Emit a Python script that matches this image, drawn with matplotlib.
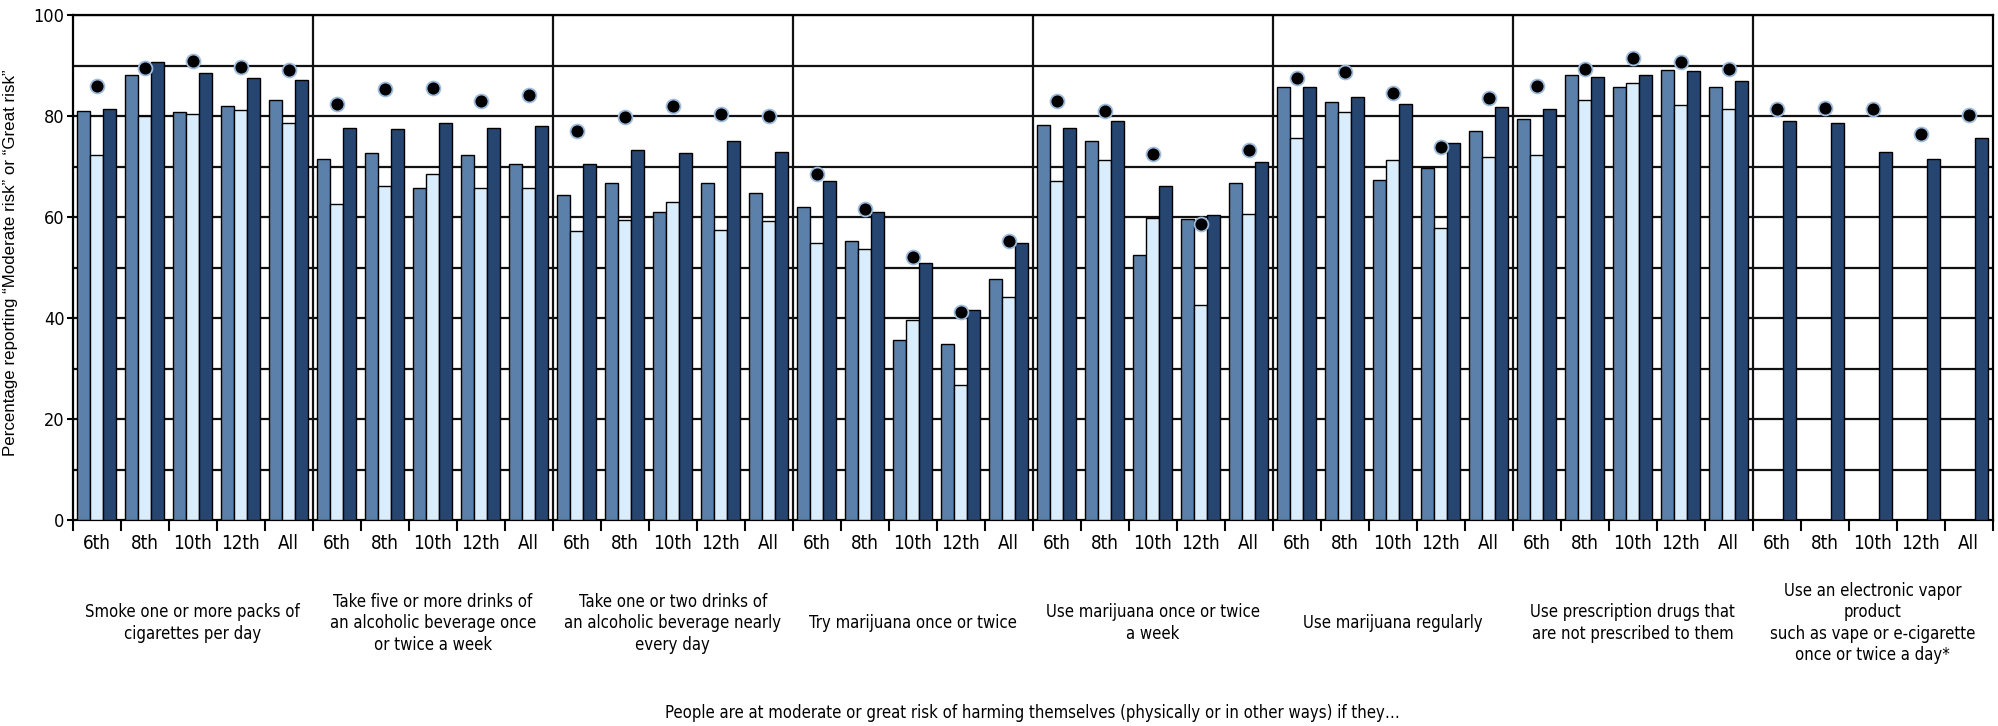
import matplotlib.pyplot as plt
import matplotlib.transforms as mtransforms
from matplotlib import font_manager
import numpy as np

# look for a narrow face; the reference uses a condensed sans
narrow = None
for f in font_manager.fontManager.ttflist:
    if ("Condensed" in f.fname or "Narrow" in f.fname) and "Bold" not in f.fname \
            and "Oblique" not in f.fname and "Italic" not in f.fname:
        narrow = f.fname
        break

if narrow:
    lab_font = font_manager.FontProperties(fname=narrow)
    size_big, size_tick = 12, 13.5
else:
    lab_font = font_manager.FontProperties(family="Liberation Sans")
    size_big, size_tick = 11, 12.5

grades = ["6th", "8th", "10th", "12th", "All"]

behaviours = [
    "Smoke one or more packs of\ncigarettes per day",
    "Take five or more drinks of\nan alcoholic beverage once\nor twice a week",
    "Take one or two drinks of\nan alcoholic beverage nearly\nevery day",
    "Try marijuana once or twice",
    "Use marijuana once or twice\na week",
    "Use marijuana regularly",
    "Use prescription drugs that\nare not prescribed to them",
    "Use an electronic vapor\nproduct\nsuch as vape or e-cigarette\nonce or twice a day*",
]

# per behaviour, values for 6th, 8th, 10th, 12th, All
series_mid = [
    81.0, 88.1, 80.7, 82.0, 83.2,
    71.5, 72.6, 65.8, 72.3, 70.5,
    64.4, 66.8, 61.0, 66.8, 64.8,
    62.0, 55.3, 35.6, 34.9, 47.8,
    78.3, 75.0, 52.5, 59.6, 66.8,
    85.8, 82.8, 67.4, 69.8, 77.0,
    79.4, 88.1, 85.8, 89.2, 85.8,
    np.nan, np.nan, np.nan, np.nan, np.nan,
]
series_light = [
    72.3, 80.0, 80.4, 81.1, 78.7,
    62.6, 66.1, 68.5, 65.8, 65.8,
    57.3, 59.4, 63.0, 57.5, 59.3,
    54.8, 53.6, 39.6, 26.7, 44.1,
    67.2, 71.2, 59.9, 42.6, 60.6,
    75.6, 80.7, 71.2, 57.9, 71.9,
    72.3, 83.1, 86.6, 82.1, 81.4,
    np.nan, np.nan, np.nan, np.nan, np.nan,
]
series_dark = [
    81.4, 90.6, 88.5, 87.5, 87.2,
    77.7, 77.4, 78.7, 77.7, 78.0,
    70.5, 73.2, 72.6, 75.0, 72.9,
    67.2, 61.0, 50.8, 41.6, 54.9,
    77.7, 79.0, 66.1, 60.3, 70.9,
    85.8, 83.8, 82.4, 74.6, 81.8,
    81.4, 87.8, 88.2, 88.9, 86.9,
    79.0, 78.7, 72.9, 71.5, 75.7,
]
series_dot = [
    86.0, 89.6, 90.9, 89.7, 89.2,
    82.4, 85.4, 85.6, 82.9, 84.1,
    77.1, 79.8, 82.0, 80.3, 80.0,
    68.5, 61.6, 52.0, 41.1, 55.3,
    82.9, 80.9, 72.5, 58.7, 73.2,
    87.5, 88.7, 84.5, 73.8, 83.5,
    86.0, 89.3, 91.4, 90.6, 89.4,
    81.3, 81.5, 81.3, 76.5, 80.1,
]

n_cat = len(series_dark)
x = np.arange(n_cat) + 0.5
w = 0.27

fig = plt.figure(figsize=(19.99, 7.26), dpi=100)
ax = fig.add_axes([72.7 / 1999, 1 - 520 / 726, 1920 / 1999, 505 / 726])

ax.bar(x - w, series_mid, width=w, color="#5b80aa", edgecolor="black", linewidth=1, zorder=3)
ax.bar(x, series_light, width=w, color="#d9edfd", edgecolor="black", linewidth=1, zorder=3)
ax.bar(x + w, series_dark, width=w, color="#27466f", edgecolor="black", linewidth=1, zorder=3)
ax.plot(x, series_dot, "o", color="black", markersize=10, markeredgecolor="#9dbbdc",
        markeredgewidth=1.3, zorder=4, linestyle="none")

ax.set_xlim(0, n_cat)
ax.set_ylim(0, 100)

# grid lines every 10, group dividers every 5 categories
for yv in range(10, 101, 10):
    ax.axhline(yv, color="#111111", linewidth=1.6, zorder=1)
for g in range(1, len(behaviours)):
    ax.axvline(g * 5, color="#111111", linewidth=1.6, zorder=1)

ax.set_yticks(range(0, 101, 20))
ax.tick_params(axis="y", length=4, width=1.5, pad=2)
ax.set_xticks(np.arange(0, n_cat + 1))
ax.set_xticklabels([])
ax.set_xticks(x, minor=True)
ax.set_xticklabels(grades * len(behaviours), minor=True)
ax.tick_params(axis="x", which="major", length=8, width=1.5)
ax.tick_params(axis="x", which="minor", length=0, pad=10)
for t in ax.get_xticklabels(minor=True):
    t.set_fontproperties(lab_font)
    t.set_fontsize(size_tick)
for t in ax.get_yticklabels():
    t.set_fontproperties(lab_font)
    t.set_fontsize(size_tick - 0.5)

for side in ["top", "right", "left", "bottom"]:
    ax.spines[side].set_linewidth(1.6)

ax.set_ylabel("Percentage reporting \u201cModerate risk\u201d or \u201cGreat risk\u201d",
              family="Liberation Sans", fontsize=12.2)
ax.yaxis.set_label_coords(-0.0285, 0.51)

trans = mtransforms.blended_transform_factory(ax.transData, ax.transAxes)
for i, label in enumerate(behaviours):
    ax.text(i * 5 + 2.5, -0.204, label, transform=trans, ha="center", va="center",
            multialignment="center", fontproperties=lab_font, fontsize=size_big,
            linespacing=1.25)

ax.text(0.5, -0.382,
        "People are at moderate or great risk of harming themselves (physically or in other ways) if they\u2026",
        transform=ax.transAxes, ha="center", va="center", fontproperties=lab_font, fontsize=size_big)

fig.savefig("out.png", dpi=100)
